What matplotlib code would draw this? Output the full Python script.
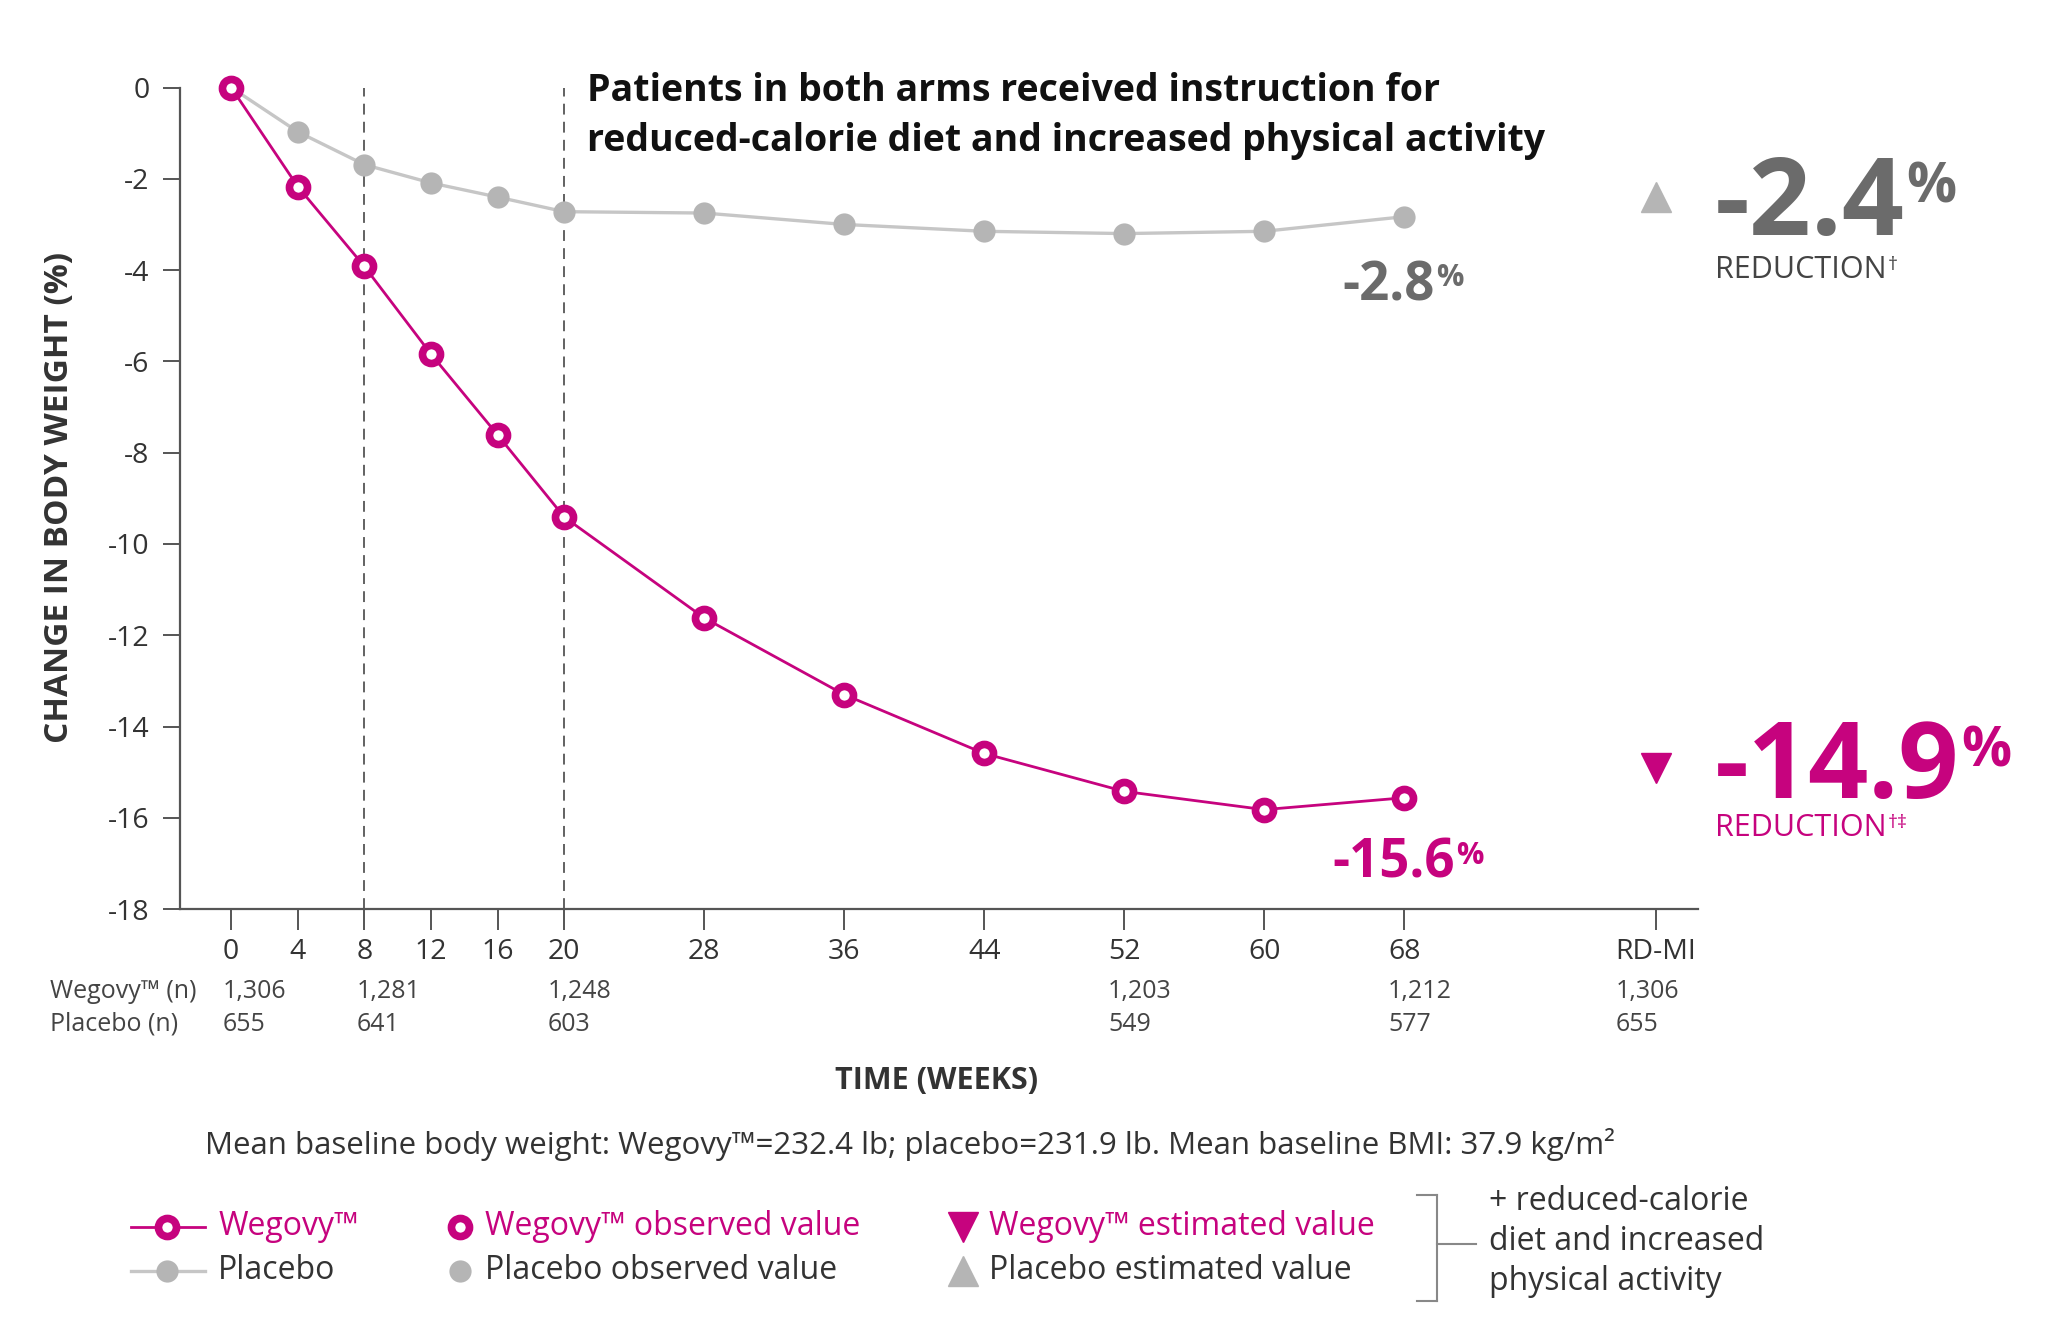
import numpy as np
import matplotlib
matplotlib.use('Agg')
import matplotlib.pyplot as plt
from matplotlib.lines import Line2D

plt.rcParams['font.family'] = ['Open Sans', 'DejaVu Sans']

MAGENTA = '#C6037E'
GRAY_MARK = '#B5B5B5'
GRAY_LINE = '#C6C6C6'
GRAY_BIG = '#6B6B6B'
TEXT = '#333333'
AXIS = '#555555'

# data (% change in body weight)
weeks = [0, 4, 8, 12, 16, 20, 28, 36, 44, 52, 60, 68]
wegovy = [0.0, -2.17, -3.92, -5.84, -7.61, -9.41, -11.62, -13.3, -14.59, -15.42, -15.82, -15.56]
placebo = [0.0, -0.97, -1.69, -2.09, -2.4, -2.72, -2.75, -3.0, -3.15, -3.2, -3.15, -2.83]

# treatment-policy estimates (RD-MI)
rdmi_week = 82.4
wegovy_est = -14.9
placebo_est = -2.4

tick_weeks = weeks + [rdmi_week]
tick_labels = [str(w) for w in weeks] + ['RD-MI']
y_ticks = list(range(-18, 1, 2))

# number of patients under the axis
n_at = ['0', '8', '20', '52', '68', 'RD-MI']
n_wegovy = ['1,306', '1,281', '1,248', '1,203', '1,212', '1,306']
n_placebo = ['655', '641', '603', '549', '577', '655']

guide_weeks = [8, 20]

# the original draws weeks 0-20 a little tighter than the rest
SQUEEZE = 0.9515
BREAK = 20


def fwd(x):
    x = np.asarray(x, dtype=float)
    return np.where(x < BREAK, x * SQUEEZE, BREAK * SQUEEZE + (x - BREAK))


def inv(u):
    u = np.asarray(u, dtype=float)
    return np.where(u < BREAK * SQUEEZE, u / SQUEEZE, u - BREAK * SQUEEZE + BREAK)


fig = plt.figure(figsize=(20.48, 13.22), dpi=100)
ax = fig.add_axes([0.088, 0.3123, 0.7411, 0.6215])
ax.set_xscale('function', functions=(fwd, inv))
ax.set_xlim(-3.06, 84.79)
ax.set_ylim(-18, 0)

for w in guide_weeks:
    ax.axvline(w, color=AXIS, lw=1.3, ls=(0, (6, 4)), zorder=1)

ax.plot(weeks, placebo, color=GRAY_LINE, lw=2.4, marker='o', ms=16,
        mfc=GRAY_MARK, mec=GRAY_MARK, mew=0, clip_on=False, zorder=3)
ax.plot(weeks, wegovy, color=MAGENTA, lw=2.0, marker='o', ms=13,
        mfc='white', mec=MAGENTA, mew=5.5, clip_on=False, zorder=4)
ax.plot([rdmi_week], [placebo_est], marker='^', ms=22, color=GRAY_MARK,
        ls='none', clip_on=False)
ax.plot([rdmi_week], [wegovy_est], marker='v', ms=22, color=MAGENTA,
        ls='none', clip_on=False)

for s in ['top', 'right']:
    ax.spines[s].set_visible(False)
for s in ['left', 'bottom']:
    ax.spines[s].set_color(AXIS)
    ax.spines[s].set_linewidth(1.6)

ax.set_yticks(y_ticks)
ax.set_yticklabels([str(v) for v in y_ticks])
ax.set_xticks(tick_weeks)
ax.set_xticklabels(tick_labels)
ax.xaxis.set_minor_locator(matplotlib.ticker.NullLocator())
ax.tick_params(axis='y', length=12, width=1.4, pad=10, labelsize=20.5,
               color=AXIS, labelcolor=TEXT)
ax.tick_params(axis='x', length=15, width=1.4, pad=6, labelsize=20.5,
               color=AXIS, labelcolor=TEXT)

fig.text(0.0290, 0.6235, 'CHANGE IN BODY WEIGHT (%)', rotation=90,
         ha='center', va='center', fontsize=24, fontweight='bold', color=TEXT)
fig.text(0.4573, 0.1825, 'TIME (WEEKS)', ha='center', va='center',
         fontsize=22, fontweight='bold', color=TEXT)

fig.text(0.2864, 0.9310, 'Patients in both arms received instruction for',
         va='center', fontsize=27, fontweight='bold', color='#111111')
fig.text(0.2864, 0.8935, 'reduced-calorie diet and increased physical activity',
         va='center', fontsize=27, fontweight='bold', color='#111111')


def value_label(x, y, value, size, sup_size, color):
    t = fig.text(x, y, f'{value:.1f}', fontsize=size, fontweight='bold',
                 color=color, va='baseline', ha='left')
    ax.annotate('%', xy=(1, 0.93), xycoords=t, xytext=(1, 0),
                textcoords='offset points', ha='left', va='top',
                fontsize=sup_size, fontweight='bold', color=color,
                annotation_clip=False)
    return t


def reduction_label(x, y, marks, color):
    t = fig.text(x, y, 'REDUCTION', fontsize=22, color=color, va='baseline')
    ax.annotate(marks, xy=(1, 0.97), xycoords=t, xytext=(1, 0),
                textcoords='offset points', ha='left', va='top',
                fontsize=14, color=color, annotation_clip=False)


# end-of-line values
value_label(0.6556, 0.7727, placebo[-1], 38, 22, GRAY_BIG)
value_label(0.6505, 0.3360, wegovy[-1], 38, 22, MAGENTA)

# estimated values on the right
value_label(0.8374, 0.8221, placebo_est, 78, 40, GRAY_BIG)
reduction_label(0.8374, 0.7895, '†', '#444444')
value_label(0.8374, 0.3962, wegovy_est, 76, 40, MAGENTA)
reduction_label(0.8374, 0.3676, '†‡', MAGENTA)

# patient numbers, aligned with the left edge of the week labels
fig.text(0.0242, 0.2500, 'Wegovy™ (n)', fontsize=18, color='#444444', va='center')
fig.text(0.0242, 0.2253, 'Placebo (n)', fontsize=18, color='#444444', va='center')
fig.canvas.draw()
fig_w = fig.bbox.width
for lab in ax.get_xticklabels():
    if lab.get_text() in n_at:
        i = n_at.index(lab.get_text())
        x0 = lab.get_window_extent().x0 / fig_w
        fig.text(x0, 0.2500, n_wegovy[i], fontsize=18, color='#444444', va='center')
        fig.text(x0, 0.2253, n_placebo[i], fontsize=18, color='#444444', va='center')

fig.text(0.4445, 0.1344,
         'Mean baseline body weight: Wegovy™=232.4 lb; placebo=231.9 lb. '
         'Mean baseline BMI: 37.9 kg/m²',
         ha='center', va='center', fontsize=22.5, color=TEXT)

# legend, drawn by hand to keep the original spacing
row1, row2 = 0.0722, 0.0386
fig.add_artist(Line2D([0.0638, 0.1001], [row1, row1], color=MAGENTA, lw=2.0,
                      transform=fig.transFigure))
fig.add_artist(Line2D([0.0816], [row1], marker='o', ms=13, mfc='white',
                      mec=MAGENTA, mew=5.5, transform=fig.transFigure))
fig.add_artist(Line2D([0.0638, 0.1001], [row2, row2], color=GRAY_LINE, lw=2.4,
                      transform=fig.transFigure))
fig.add_artist(Line2D([0.0816], [row2], marker='o', ms=16, color=GRAY_MARK,
                      mew=0, transform=fig.transFigure))
fig.add_artist(Line2D([0.2245], [row1], marker='o', ms=13, mfc='white',
                      mec=MAGENTA, mew=5.5, transform=fig.transFigure))
fig.add_artist(Line2D([0.2245], [row2], marker='o', ms=16, color=GRAY_MARK,
                      mew=0, transform=fig.transFigure))
fig.add_artist(Line2D([0.4700], [row1], marker='v', ms=22, color=MAGENTA,
                      transform=fig.transFigure))
fig.add_artist(Line2D([0.4700], [row2], marker='^', ms=22, color=GRAY_MARK,
                      transform=fig.transFigure))

legend_rows = [
    (0.1065, row1, 'Wegovy™', MAGENTA), (0.1065, row2, 'Placebo', TEXT),
    (0.2366, row1, 'Wegovy™ observed value', MAGENTA),
    (0.2366, row2, 'Placebo observed value', TEXT),
    (0.4828, row1, 'Wegovy™ estimated value', MAGENTA),
    (0.4828, row2, 'Placebo estimated value', TEXT),
]
for x, y, s, c in legend_rows:
    fig.text(x, y, s, fontsize=23, color=c, va='center')

# bracket
bx, bl = 0.7015, 0.6920
top, bot, mid = 0.0958, 0.0158, 0.0593
for xs, ys in [([bl, bx], [top, top]), ([bl, bx], [bot, bot]),
               ([bx, bx], [bot, top]), ([bx, 0.7207], [mid, mid])]:
    fig.add_artist(Line2D(xs, ys, color='#888888', lw=1.5,
                          transform=fig.transFigure))
fig.text(0.7270, 0.0610, '+ reduced-calorie\ndiet and increased\nphysical activity',
         fontsize=23, color=TEXT, va='center', linespacing=1.28)

fig.savefig('out.png', dpi=100)
